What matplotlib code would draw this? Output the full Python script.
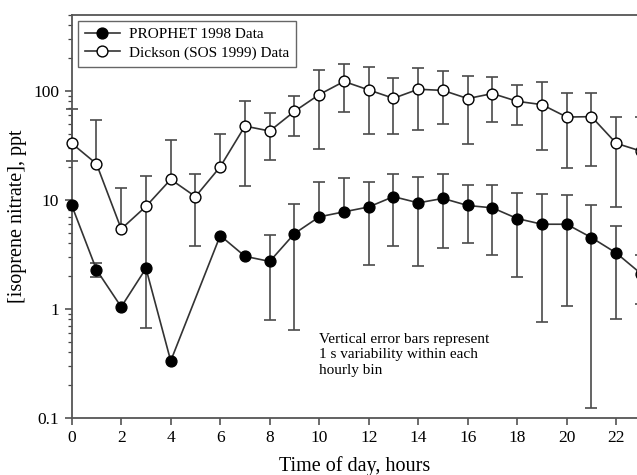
import numpy as np
import matplotlib
matplotlib.use('Agg')
import matplotlib.pyplot as plt
from matplotlib.ticker import FixedLocator, FixedFormatter, LogLocator, NullFormatter

plt.rcParams['font.family'] = ['Liberation Serif', 'DejaVu Serif']

nan = np.nan
hours = np.arange(24)

# PROPHET 1998 hourly means (ppt), with the ends of the 1 s bars (nan = not drawn)
prophet = [8.9, 2.28, 1.04, 2.35, 0.332, nan, 4.7, 3.03, 2.72, 4.9, 6.98, 7.76,
           8.6, 10.7, 9.38, 10.3, 8.87, 8.44, 6.73, 5.97, 5.97, 4.5, 3.25, 2.1]
prophet_hi = [nan, 2.63, nan, nan, nan, nan, nan, nan, 4.72, 9.2, 14.6, 15.7,
              14.6, 17.2, 16.1, 17.1, 13.7, 13.7, 11.5, 11.3, 11.0, 8.87, 5.72, 3.12]
prophet_lo = [nan, 1.96, nan, nan, nan, nan, nan, nan, 0.79, 0.64, nan, nan,
              2.5, 3.8, 2.49, 3.59, 4.02, 3.09, 1.96, 0.75, 1.05, 0.124, 0.81, 1.11]

# Dickson (SOS 1999)
dickson = [33, 21.4, 5.4, 8.7, 15.4, 10.7, 20.1, 47.5, 42.8, 64.9, 92.5, 122,
           102, 85.5, 103.5, 101, 85, 94.5, 80.2, 74.8, 57.5, 58, 33, 28]
dickson_hi = [68, 53.7, 12.9, 16.7, 35.1, 17.3, 40.5, 80.7, 62.2, 90.5, 154, 178,
              164, 131, 161, 152, 138, 133, 112.6, 120, 95, 95.7, 58, 58]
dickson_lo = [22.6, nan, nan, 0.66, nan, 3.8, nan, 13.5, 23, 38.8, 29.2, 64.5,
              40.1, 39.9, 43.7, 50, 32.7, 52, 48.5, 28.4, 19.7, 20.4, 8.55, nan]

xticks = list(range(0, 23, 2))

fig = plt.figure(figsize=(6.37, 4.75), dpi=100)
ax = fig.add_axes([0.1126, 0.1206, 0.9325, 0.8484])
ax.set_yscale('log')

ebc = '#4a4a4a'


def bars(y, lo, hi):
    y = np.array(y, float)
    lo = np.array(lo, float)
    hi = np.array(hi, float)
    # upper half of each bar
    m = ~np.isnan(hi)
    eb = ax.errorbar(hours[m], y[m], yerr=[np.zeros(m.sum()), hi[m] - y[m]], fmt='none',
                     ecolor=ebc, elinewidth=1.2, capsize=4.5, capthick=1.2, zorder=2)
    eb[1][0].set_visible(False)
    for c in eb[1] + eb[2]:
        c.set_clip_on(False)
    # lower half
    m = ~np.isnan(lo)
    eb = ax.errorbar(hours[m], y[m], yerr=[y[m] - lo[m], np.zeros(m.sum())], fmt='none',
                     ecolor=ebc, elinewidth=1.2, capsize=4.5, capthick=1.2, zorder=2)
    eb[1][1].set_visible(False)
    for c in eb[1] + eb[2]:
        c.set_clip_on(False)


bars(prophet, prophet_lo, prophet_hi)
bars(dickson, dickson_lo, dickson_hi)

p = np.array(prophet)
ok = ~np.isnan(p)
ax.plot(hours[ok], p[ok], '-o', color='#333333', lw=1.2, ms=7.8, mfc='black', mec='black',
        label='PROPHET 1998 Data', clip_on=False, zorder=3)
ax.plot(hours, dickson, '-o', color='#333333', lw=1.2, ms=7.8, mfc='white', mec='black',
        mew=1.0, label='Dickson (SOS 1999) Data', clip_on=False, zorder=3)

ax.set_xlim(0, 24)
ax.set_ylim(0.1, 500)
ax.xaxis.set_major_locator(FixedLocator(xticks))
ax.yaxis.set_major_locator(FixedLocator([0.1, 1, 10, 100]))
ax.yaxis.set_major_formatter(FixedFormatter(['0.1', '1', '10', '100']))
ax.yaxis.set_minor_locator(LogLocator(subs=np.arange(2, 10)))
ax.yaxis.set_minor_formatter(NullFormatter())
ax.tick_params(which='major', direction='out', length=5, width=1.1, color='#444444',
               labelsize=12.5, pad=4)
ax.tick_params(which='minor', direction='out', length=3, width=0.9, color='#444444')
for s in ax.spines.values():
    s.set_color('#555555')
    s.set_linewidth(1.3)

ax.set_xlabel('Time of day, hours', fontsize=14.5)
ax.set_ylabel('[isoprene nitrate], ppt', fontsize=14.5)
ax.xaxis.set_label_coords((355 - 71.7) / 594, -0.095)
ax.yaxis.set_label_coords(-0.075, 0.5)

ax.text(10.0, 0.6, 'Vertical error bars represent\n1 s variability within each\nhourly bin',
        fontsize=11, va='top', ha='left', linespacing=1.25)

leg = ax.legend(loc='upper left', bbox_to_anchor=(0.0106, 0.985), borderaxespad=0,
                fontsize=11, handlelength=2.3, handletextpad=0.6, fancybox=False,
                framealpha=1, edgecolor='#666666', borderpad=0.45, labelspacing=0.3)
leg.get_frame().set_linewidth(1.0)

fig.savefig('out.png', dpi=100)
